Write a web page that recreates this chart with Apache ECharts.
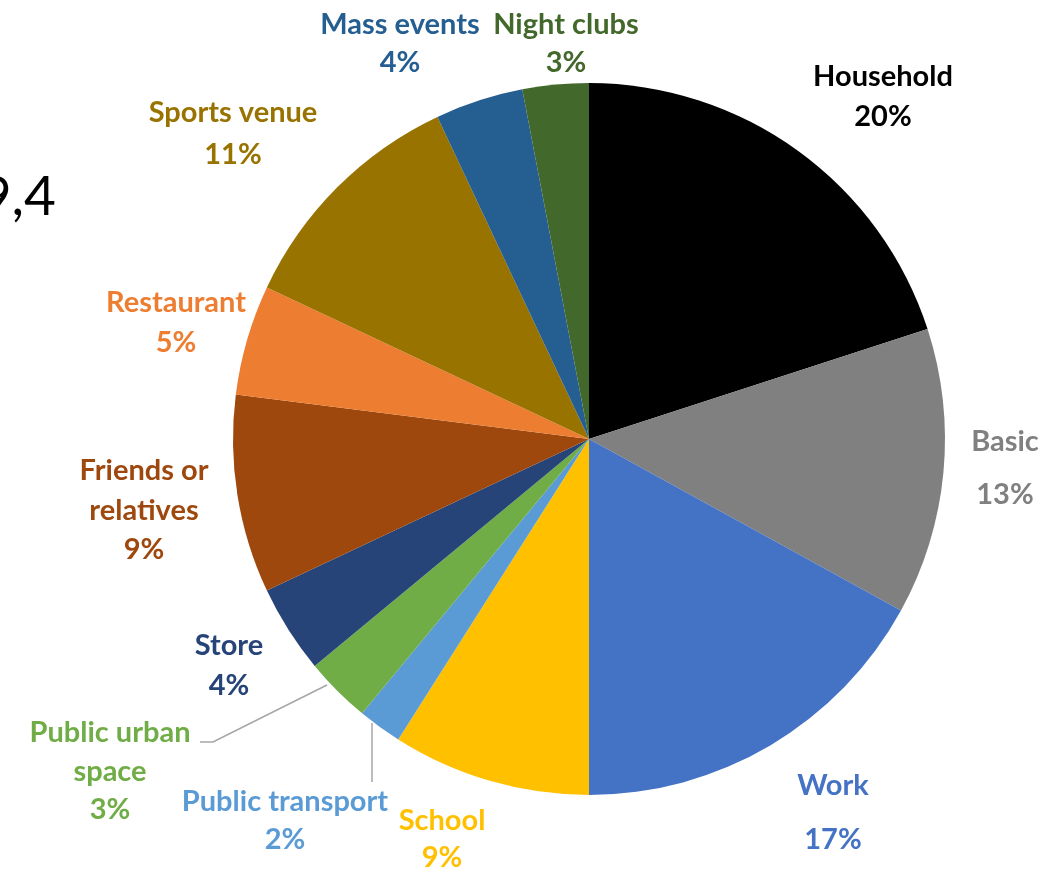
<!DOCTYPE html>
<html>
<head>
<meta charset="utf-8">
<script src="https://cdn.jsdelivr.net/npm/echarts@6/dist/echarts.min.js"></script>
<style>
  html, body { margin: 0; padding: 0; background: #ffffff; }
  #chart { width: 1043px; height: 872px; }
</style>
</head>
<body>
<div id="chart"></div>
<script>
// Places of infection, share of cases (%), clockwise from 12 o'clock
const categories = [
  'Household', 'Basic', 'Work', 'School', 'Public transport',
  'Public urban\nspace', 'Store', 'Friends or\nrelatives', 'Restaurant',
  'Sports venue', 'Mass events', 'Night clubs'
];
const shares = [20, 13, 17, 9, 2, 3, 4, 9, 5, 11, 4, 3];
const sliceColors = [
  '#000000', '#808080', '#4472C4', '#FFC000', '#5B9BD5', '#70AD47',
  '#264478', '#9E480E', '#ED7D31', '#997300', '#255E91', '#43682B'
];

// Label placement: [center x, first line center y, line spacing]
const labelPlacement = [
  [883, 77, 40],   // Household
  [1005, 442, 53], // Basic
  [833, 786, 54],  // Work
  [442, 821, 37],  // School
  [285, 802, 38],  // Public transport
  [110, 733, 38.5],// Public urban space
  [229, 646, 40],  // Store
  [144, 471, 39.5],// Friends or relatives
  [176, 303, 40],  // Restaurant
  [233, 113, 42],  // Sports venue
  [400, 25, 38],   // Mass events
  [566, 25, 38]    // Night clubs
];
// Leader lines for the two narrow slices
const leaderLines = {
  4: [[372, 723], [372, 752], [372, 782]],
  5: [[327, 685], [213, 742], [200, 742]]
};

const chart = echarts.init(document.getElementById('chart'), null, { renderer: 'canvas' });

const seriesData = categories.map((name, i) => ({
  name: name,
  value: shares[i],
  itemStyle: { color: sliceColors[i] },
  label: { color: sliceColors[i], lineHeight: labelPlacement[i][2] },
  labelLine: { show: !!leaderLines[i] }
}));

chart.setOption({
  backgroundColor: '#ffffff',
  animation: false,
  graphic: [{
    type: 'text',
    right: 1043 - 56,
    top: 170,
    style: {
      text: '9,4',
      font: '400 55px Lato',
      fill: '#000000',
      textAlign: 'right'
    }
  }],
  series: [{
    type: 'pie',
    center: [589, 439],
    radius: 356,
    startAngle: 90,
    clockwise: true,
    avoidLabelOverlap: false,
    itemStyle: { borderWidth: 0 },
    label: {
      show: true,
      position: 'outside',
      formatter: '{b}\n{c}%',
      fontFamily: 'Lato',
      fontWeight: 'bold',
      fontSize: 29,
      align: 'center'
    },
    labelLine: {
      show: false,
      lineStyle: { color: '#a6a6a6', width: 1.5 }
    },
    labelLayout: function (params) {
      const i = params.dataIndex;
      const p = labelPlacement[i];
      const lines = categories[i].split('\n').length + 1;
      const out = {
        x: p[0],
        y: p[1] + (lines - 1) * p[2] / 2,
        align: 'center',
        verticalAlign: 'middle'
      };
      if (leaderLines[i]) out.labelLinePoints = leaderLines[i];
      return out;
    },
    data: seriesData
  }]
});
</script>
</body>
</html>
